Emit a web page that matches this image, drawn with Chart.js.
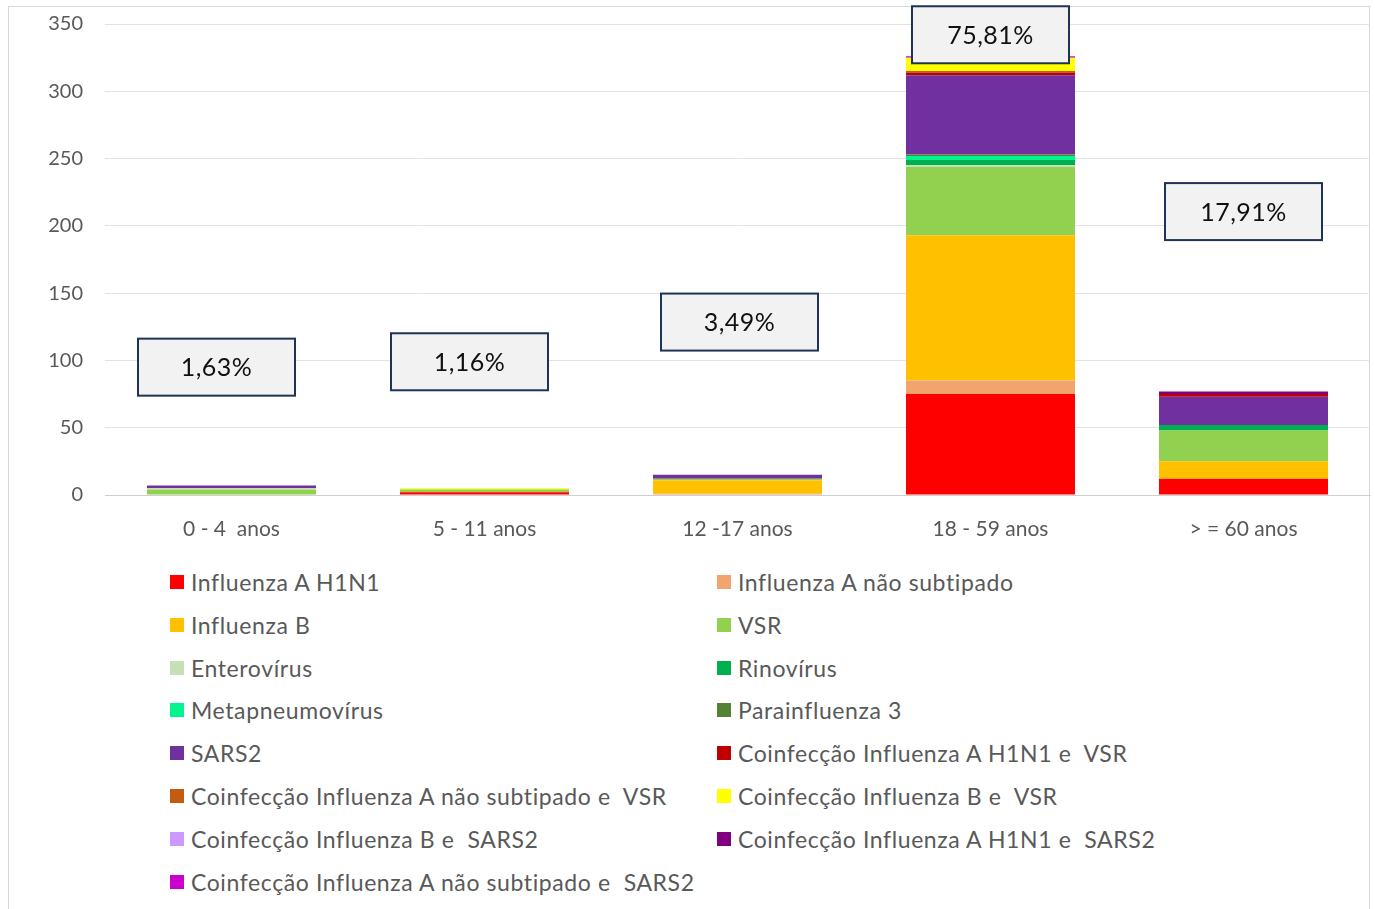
<!DOCTYPE html>
<html>
<head>
<meta charset="utf-8">
<script src="https://cdn.jsdelivr.net/npm/chart.js@4.4.1/dist/chart.umd.min.js"></script>
<style>
    body { margin: 0; background: #fff; font-family: Lato, "Open Sans", sans-serif; overflow: hidden; }
    #frame { position: absolute; left: 8px; top: 6px; width: 1362px; height: 940px; border: 1px solid #d9d9d9; box-sizing: border-box; }
    #wrap { position: absolute; left: 0; top: -10px; width: 1375px; height: 570px; }
    #legend { position: absolute; left: 170px; top: 568px; width: 1100px; }
    .item { position: absolute; display: flex; align-items: center; font-size: 23px; letter-spacing: 0.6px; color: #595959; white-space: pre; }
    .box { width: 14px; height: 14px; margin-right: 7px; }
</style>
</head>
<body>
<div id="frame"></div>
<div id="wrap"><canvas id="chart"></canvas></div>
<div id="legend"></div>
<script>
// Categories and series
const ageGroups = ['0 - 4  anos', '5 - 11 anos', '12 -17 anos', '18 - 59 anos', '> = 60 anos'];
const shareLabels = ['1,63%', '1,16%', '3,49%', '75,81%', '17,91%'];

const fluAH1N1 = [0, 2, 0, 75, 12];
const fluANotSubtyped = [0, 0, 1, 10, 0];
const fluB = [0, 0, 10, 108, 13];
const vsr = [4, 2, 1, 51, 23];
const enterovirus = [1, 0, 0, 1, 0];
const rhinovirus = [0, 0, 0, 4, 4];
const metapneumovirus = [0, 0, 0, 3, 0];
const parainfluenza3 = [0, 0, 0, 1, 0];
const sars2 = [2, 0, 3, 59, 21];
const coH1N1Vsr = [0, 0, 0, 2, 2];
const coANotSubVsr = [0, 0, 0, 1, 0];
const coBVsr = [0, 1, 0, 10, 0];
const coBSars2 = [0, 0, 0, 0, 0];
const coH1N1Sars2 = [0, 0, 0, 0, 2];
const coANotSubSars2 = [0, 0, 0, 1, 0];

const series = [
    ['Influenza A H1N1', fluAH1N1, '#ff0000'],
    ['Influenza A não subtipado', fluANotSubtyped, '#f1a46d'],
    ['Influenza B', fluB, '#ffc000'],
    ['VSR', vsr, '#92d050'],
    ['Enterovírus', enterovirus, '#c5e0b4'],
    ['Rinovírus', rhinovirus, '#00b050'],
    ['Metapneumovírus', metapneumovirus, '#00f58e'],
    ['Parainfluenza 3', parainfluenza3, '#548235'],
    ['SARS2', sars2, '#7030a0'],
    ['Coinfecção Influenza A H1N1 e  VSR', coH1N1Vsr, '#c00000'],
    ['Coinfecção Influenza A não subtipado e  VSR', coANotSubVsr, '#c55a11'],
    ['Coinfecção Influenza B e  VSR', coBVsr, '#ffff00'],
    ['Coinfecção Influenza B e  SARS2', coBSars2, '#cc99ff'],
    ['Coinfecção Influenza A H1N1 e  SARS2', coH1N1Sars2, '#800080'],
    ['Coinfecção Influenza A não subtipado e  SARS2', coANotSubSars2, '#cc00cc']
];

// Boxed percentage labels, placed by hand like in the original sheet
const shareBoxes = {
    id: 'shareBoxes',
    afterDatasetsDraw(chart, args, opts) {
        const ctx = chart.ctx;
        const x = chart.scales.x, y = chart.scales.y;
        ctx.save();
        shareLabels.forEach((txt, i) => {
            const cx = x.getPixelForValue(i) + opts.dx[i];
            const cy = y.getPixelForValue(opts.yValue[i]);
            const w = 157, h = 57;
            ctx.fillStyle = '#f2f2f2';
            ctx.fillRect(cx - w / 2, cy - h / 2, w, h);
            ctx.lineWidth = 2;
            ctx.strokeStyle = '#1f3354';
            ctx.strokeRect(cx - w / 2, cy - h / 2, w, h);
            ctx.fillStyle = '#111';
            ctx.font = '25px Lato, "Open Sans", sans-serif';
            ctx.letterSpacing = '0.5px';
            ctx.textAlign = 'center';
            ctx.textBaseline = 'middle';
            ctx.fillText(txt, cx, cy + 1);
        });
        ctx.restore();
    }
};

const chart = new Chart(document.getElementById('chart'), {
    type: 'bar',
    data: {
        labels: ageGroups,
        datasets: series.map(s => ({
            label: s[0],
            data: s[1],
            backgroundColor: s[2],
            borderWidth: 0,
            barPercentage: 0.668,
            categoryPercentage: 1
        }))
    },
    options: {
        responsive: true,
        maintainAspectRatio: false,
        animation: false,
        layout: { padding: { left: 0, right: 5, top: 4, bottom: 0 } },
        plugins: {
            legend: { display: false },
            tooltip: { enabled: false },
            shareBoxes: {
                dx: [-15, -15, 2, 0, 0],
                yValue: [95, 99, 128.5, 342, 210.6]
            }
        },
        scales: {
            x: {
                stacked: true,
                grid: { display: false },
                border: { color: '#d0d0d0', width: 1 },
                ticks: { color: '#595959', font: { family: 'Lato', size: 21 }, padding: 14 },
                afterFit(scale) { scale.height = 65; }
            },
            y: {
                stacked: true,
                min: 0,
                max: 350,
                ticks: { stepSize: 50, color: '#595959', font: { family: 'Lato', size: 20 }, padding: 22 },
                grid: { color: '#e3e3e3', drawTicks: false },
                border: { display: false },
                afterFit(scale) { scale.width = 105; }
            }
        }
    },
    plugins: [shareBoxes]
});

// Two-column legend built from the chart's datasets
const legendEl = document.getElementById('legend');
chart.data.datasets.forEach((ds, i) => {
    const item = document.createElement('div');
    item.className = 'item';
    item.style.left = (i % 2 === 0 ? 0 : 547) + 'px';
    item.style.top = (Math.floor(i / 2) * 42.8) + 'px';
    item.innerHTML = `<span class="box" style="background:${ds.backgroundColor}"></span>${ds.label}`;
    legendEl.appendChild(item);
});
</script>
</body>
</html>
